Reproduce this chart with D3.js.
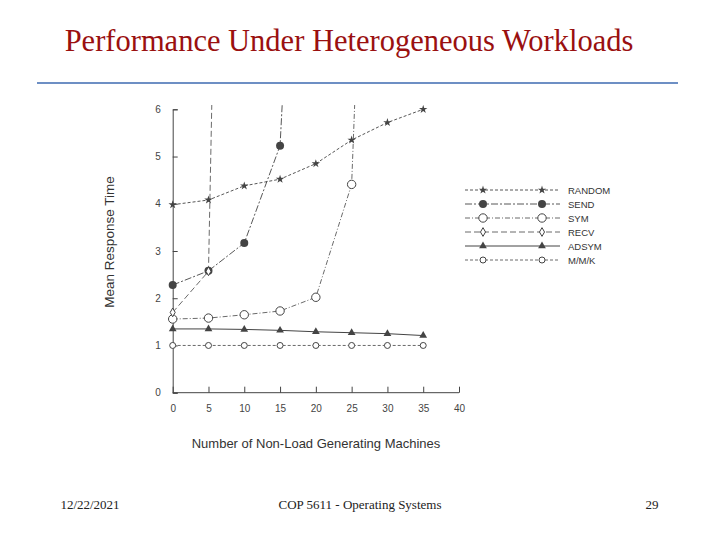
<!DOCTYPE html>
<html><head><meta charset="utf-8">
<script src="https://cdn.jsdelivr.net/npm/d3@7"></script>
<style>body{margin:0;background:#fff}</style>
</head><body>
<svg width="720" height="540"></svg>
<script>
const xTicks = [0, 5, 10, 15, 20, 25, 30, 35, 40];
const yTicks = [0, 1, 2, 3, 4, 5, 6];
const names = ['RANDOM', 'SEND', 'SYM', 'RECV', 'ADSYM', 'M/M/K'];
const randomX = [0, 5, 10, 15, 20, 25, 30, 35];
const randomY = [3.98, 4.08, 4.38, 4.52, 4.85, 5.35, 5.72, 6.0];
const sendX = [0, 5, 10, 15, 15.4];
const sendY = [2.28, 2.58, 3.17, 5.23, 6.4];
const symX = [0, 5, 10, 15, 20, 25, 25.5];
const symY = [1.56, 1.58, 1.65, 1.73, 2.02, 4.41, 6.4];
const recvX = [0, 5, 5.5];
const recvY = [1.70, 2.57, 6.4];
const adsymX = [0, 5, 10, 15, 20, 25, 30, 35];
const adsymY = [1.35, 1.35, 1.34, 1.32, 1.29, 1.27, 1.25, 1.21];
const mmkX = [0, 5, 10, 15, 20, 25, 30, 35];
const mmkY = [1, 1, 1, 1, 1, 1, 1, 1];

const svg = d3.select('svg');
const x = d3.scaleLinear().domain([0, 40]).range([172.7, 459]);
const y = d3.scaleLinear().domain([0, 6]).range([392.7, 109.3]);
const ink = '#444';

svg.append('text').attr('x', 349).attr('y', 51).attr('text-anchor', 'middle')
  .attr('font-family', 'Liberation Serif').attr('font-size', 30.5).attr('fill', '#9a1010')
  .text('Performance Under Heterogeneous Workloads');
svg.append('line').attr('x1', 37).attr('x2', 678).attr('y1', 83).attr('y2', 83)
  .attr('stroke', '#6d8fc4').attr('stroke-width', 2);

const ax = svg.append('g').attr('font-family', 'Liberation Sans').attr('fill', ink);
ax.append('g').attr('transform', 'translate(0,392.7)')
  .call(d3.axisBottom(x).tickValues(xTicks).tickSize(-6).tickPadding(12))
  .call(g => g.select('.domain').attr('d', 'M172.7,0H459'));
ax.append('g').attr('transform', 'translate(172.7,0)')
  .call(d3.axisLeft(y).tickValues(yTicks).tickFormat(d3.format('d')).tickSize(-5).tickPadding(12));
ax.selectAll('.tick text').attr('fill', ink).attr('font-size', 10);
ax.selectAll('.tick line, .domain').attr('stroke', ink);

svg.append('text').attr('x', 316).attr('y', 448).attr('text-anchor', 'middle')
  .attr('font-family', 'Liberation Sans').attr('font-size', 13).attr('fill', '#333')
  .text('Number of Non-Load Generating Machines');
svg.append('text').attr('transform', 'translate(114,242) rotate(-90)').attr('text-anchor', 'middle')
  .attr('font-family', 'Liberation Sans').attr('font-size', 13.5).attr('fill', '#333')
  .text('Mean Response Time');

const series = [
  {xs: randomX, ys: randomY, dash: '3,2', m: 'star', r: 3.5, w: 0.9},
  {xs: sendX, ys: sendY, dash: '7,2,2,2', m: 'dot', r: 4, w: 0.9},
  {xs: symX, ys: symY, dash: '5,2,1,2', m: 'ring', r: 4.2, w: 0.8},
  {xs: recvX, ys: recvY, dash: '6,3', m: 'diamond', r: 3, w: 0.8},
  {xs: adsymX, ys: adsymY, dash: null, m: 'tri', r: 3.5, w: 1},
  {xs: mmkX, ys: mmkY, dash: '3,2', m: 'ring', r: 3, w: 0.8}
];
svg.append('clipPath').attr('id', 'clip').append('rect')
  .attr('x', 160).attr('y', 105).attr('width', 320).attr('height', 300);
const plot = svg.append('g').attr('clip-path', 'url(#clip)');

function marker(g, s, cx, cy) {
  if (s.m === 'dot') g.append('circle').attr('cx', cx).attr('cy', cy).attr('r', s.r).attr('fill', ink);
  else if (s.m === 'ring') g.append('circle').attr('cx', cx).attr('cy', cy).attr('r', s.r).attr('fill', '#fff').attr('stroke', ink);
  else if (s.m === 'star') g.append('path').attr('transform', `translate(${cx},${cy})`)
    .attr('d', d3.symbol(d3.symbolStar, 22)()).attr('fill', ink);
  else if (s.m === 'tri') g.append('path').attr('transform', `translate(${cx},${cy})`)
    .attr('d', d3.symbol(d3.symbolTriangle, 26)()).attr('fill', ink);
  else g.append('path').attr('transform', `translate(${cx},${cy})`)
    .attr('d', d3.symbol(d3.symbolDiamond, 22)()).attr('fill', '#fff').attr('stroke', ink);
}

series.forEach((s, i) => {
  const pts = s.xs.map((v, j) => [v, s.ys[j]]);
  plot.append('path').datum(pts)
    .attr('d', d3.line().x(d => x(d[0])).y(d => y(d[1])))
    .attr('fill', 'none').attr('stroke', ink).attr('stroke-width', s.w)
    .attr('stroke-dasharray', s.dash);
  pts.filter(d => d[1] <= 6).forEach(d => marker(plot, s, x(d[0]), y(d[1])));

  const ly = 190 + i * 14;
  svg.append('line').attr('x1', 465).attr('x2', 560).attr('y1', ly).attr('y2', ly)
    .attr('stroke', ink).attr('stroke-width', s.w).attr('stroke-dasharray', s.dash);
  marker(svg, s, 483, ly);
  marker(svg, s, 542, ly);
  svg.append('text').attr('x', 568).attr('y', ly + 4).attr('font-family', 'Liberation Sans')
    .attr('font-size', 9.5).attr('fill', '#333').text(names[i]);
});

const foot = svg.append('g').attr('font-family', 'Liberation Serif').attr('font-size', 13).attr('fill', '#222');
foot.append('text').attr('x', 90).attr('y', 509).attr('text-anchor', 'middle').text('12/22/2021');
foot.append('text').attr('x', 360).attr('y', 509).attr('text-anchor', 'middle').text('COP 5611 - Operating Systems');
foot.append('text').attr('x', 652).attr('y', 509).attr('text-anchor', 'middle').text('29');
</script>
</body></html>
